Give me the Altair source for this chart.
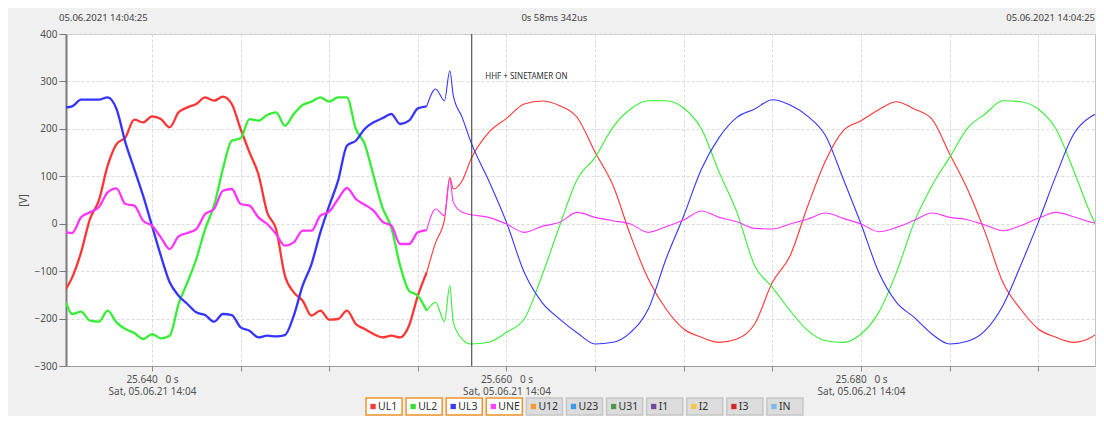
import altair as alt
import pandas as pd

# ---------------- data ----------------
TIME_MS = [
    25635.15, 25635.5, 25636.0, 25636.5, 25637.0, 25637.5, 25638.0, 25638.5,
    25639.0, 25639.5, 25640.0, 25640.5, 25641.0, 25641.5, 25642.0, 25642.5,
    25643.0, 25643.5, 25644.0, 25644.5, 25645.0, 25645.5, 25646.0, 25646.5,
    25647.0, 25647.5, 25648.0, 25648.5, 25649.0, 25649.5, 25650.0,
    25650.5, 25651.0, 25651.5, 25652.0, 25652.5, 25653.0, 25653.5, 25654.0,
    25654.5, 25655.0, 25655.5, 25656.0, 25656.5, 25656.8, 25657.0, 25657.5,
    25658, 25659, 25660, 25661, 25662, 25663, 25664, 25665, 25666, 25667,
    25668, 25669, 25670, 25671, 25672, 25673, 25674, 25675, 25676, 25677,
    25678, 25679, 25680, 25681, 25682, 25683, 25684, 25685, 25686, 25687,
    25688, 25689, 25690, 25691, 25692, 25693, 25693.48,
]

UL1 = [
    -137.7, -113.1, -60.4, 9.9, 48.6, 122.4, 168, 182.1, 219.3, 213.7, 226.4, 220.7,
    203.2, 234.8, 245.3, 252.4,
    266.4, 259.4, 267.8, 252.4, 199.7, 150.5, 104.8, 24, -11.2, -109.6, -144.7,
    -162.3, -193.9, -183.4, -202.3,
    -200.9, -183.4, -211.5, -222, -232.6, -239.6, -236.1, -239.6, -215, -151.7,
    -102.5, -40, 8.5, 97.8, 73.2, 90.7,
    136.4, 192.6, 222, 252.4, 258.7, 248.9, 223.5, 150.5, 81.6, -25.2, -116.6,
    -179.9, -222, -239.6, -250.1, -243.1, -211.5, -123.6, -67.4, 38, 132.9, 196.1,
    217.2, 240.4, 257.3, 241.8, 220.7, 147, 73.2, -18.2, -123.6, -179.9, -222,
    -239.6, -250.1, -239.6, -225.5,
]

UL2 = [
    -165.8, -190.4, -185.5, -204.5, -206.6, -183.4, -208, -222, -230.5, -243.1,
    -232.6, -241.7, -236.1, -169.3, -123.6, -74.4,
    -11.2, 38, 115.3, 175, 180, 220.7, 217.2, 229.2, 234.8, 206.7, 231.3, 250.3,
    257.3, 266.4, 257.3,
    266.4, 266.4, 199.7, 168, 101.3, 34.5, -7.7, -88.5, -141.2, -151.7, -183.4,
    -165.8, -206.6, -130.6, -208, -243.1,
    -253.6, -250, -229, -201, -109.6, -4.2, 94.2, 139.9, 203.2, 241.8, 259.4,
    259.4, 244, 199.7, 108.3, 24, -88.5, -134.2, -183.4, -225.5, -246.6, -250.1,
    -232.6, -186.9, -102.5, 2.9, 80.2, 139.9, 201.1, 231.3, 259.4, 257.3, 241.8,
    199.7, 111.8, 16.9, -18.2,
]

UL3 = [
    245.3, 247.5, 261.5, 261.5, 261.5, 266.4, 241.8, 171.5, 115.3, 59.1, -4.2,
    -67.4, -123.6, -151.7, -169.3, -186.9,
    -192.5, -206.6, -190.4, -192.5, -218.5, -225.5, -239.6, -236.1, -237.5,
    -234.7, -193.9, -130.6, -85, -18.2, 38,
    90.7, 164.5, 175, 199.7, 213.7, 222.2, 231.3, 210.2, 217.2, 243.2, 247.5,
    284, 259.4, 322.6, 270, 224.3,
    171.5, 90.7, 2.9, -102.5, -165.8, -201, -230.5, -253.6, -250.1, -229, -179.9,
    -74.4, 16.9, 115.3, 182.1, 224.3, 241.8, 261.5, 250.3, 226.4, 185.6, 94.2,
    -0.6, -102.5, -165.8, -197.4, -232.6, -253.6, -248, -225.5, -172.8, -88.5,
    2.9, 101.3, 189.1, 226.4, 234.8,
]

UNE = [
    -18.2, -19.6, 13.4, 24, 34.5, 66.1, 74.6, 41.5, 38, 6.4, -4.2, -28.8, -53.4,
    -26.6, -19.6, -11.2,
    20.4, 31, 69.6, 73.2, 41.5, 38, 13.4, -0.6, -21.7, -46.3, -39.3, -14.7,
    -14.7, 16.9, 25.4,
    52.1, 75.3, 52.1, 40.1, 27.5, 4.3, -4.2, -42.8, -42.8, -18.2, -13.3, 31,
    16.9, 94.2, 45, 24,
    19, 13.4, -0.6, -18.2, -5.6, 2.9, 24, 13.4, 6.4, -0.6, -18.2, -6.3, 7.8,
    26.8, 13.4, 4.3, -9.8, -11.2, -0.6, 9.9, 22.6, 11.3, -0.6, -16.8, -7.7, 7.1,
    22.6, 13.4, 8.5, -2.7, -14.7, -4.2, 11.3, 24, 14.8, 2.9, -0.6,
]

SERIES = ["UL1", "UL2", "UL3", "UNE"]
LINE_COLORS = ["#ff3535", "#35ee35", "#3535ff", "#ff35ff"]

X_DOMAIN = [25635.15, 25693.2]
GRID_MS = [25640, 25645, 25650, 25655, 25660, 25665, 25670, 25675, 25680, 25685, 25690]
Y_TICKS = [-300, -200, -100, 0, 100, 200, 300, 400]
RIPPLE_END = 25655.5
CURSOR_MS = [25658.04]
NOTE_T = [25658.8]
NOTE_V = [309]
NOTE_TEXT = ["HHF + SINETAMER ON"]
TOP_LEFT = "05.06.2021 14:04:25"
TOP_CENTER = "0s 58ms 342us"
TOP_CENTER_T = 25662.7
TOP_RIGHT = "05.06.2021 14:04:25"

LEG_NAMES = ["UL1", "UL2", "UL3", "UNE", "U12", "U23", "U31", "I1", "I2", "I3", "IN"]
LEG_COLORS = ["#f03a3a", "#3ade3a", "#3a3aee", "#ff44ff", "#f39a35", "#3a9aee",
              "#4a9a4a", "#6a4a9a", "#f5c842", "#d02828", "#7ab8ee"]
LEG_ACTIVE = ["on", "on", "on", "on", "off", "off", "off", "off", "off", "off", "off"]

FONT = "Noto Sans"

# ---------------- tables ----------------
rows = []
for name, vals in zip(SERIES, [UL1, UL2, UL3, UNE]):
    for t, v in zip(TIME_MS, vals):
        rows.append({"t": t, "v": v, "series": name})
df = pd.DataFrame(rows)

x_axis = alt.Axis(
    values=GRID_MS,
    labelExpr=("datum.value % 20 == 0 ? [format(datum.value / 1000, '.3f') + "
               "'\u00a0\u00a0\u00a00\u00a0s', 'Sat, 05.06.21 14:04'] : ''"),
    title=None, grid=True, gridColor="#dadada", gridDash=[3, 2],
    tickSize=5, tickColor="#8a8a8a", domainColor="#9a9a9a",
    labelFont=FONT, labelFontSize=10, labelColor="#505050",
    labelPadding=3, labelLineHeight=12, labelFlush=False, labelOverlap=False,
)
y_axis = alt.Axis(
    values=Y_TICKS, title="[V]", grid=True, gridColor="#dadada", gridDash=[3, 2],
    tickSize=7, tickColor="#777777", domainColor="#7a7a7a", domainWidth=2,
    labelFont=FONT, labelFontSize=10, labelColor="#505050", labelPadding=2,
    labelOverlap=False, titleFont=FONT, titleFontSize=10, titleFontWeight="normal",
    titleColor="#505050", titlePadding=6,
)

xs = alt.X("t:Q", scale=alt.Scale(domain=X_DOMAIN, nice=False, zero=False), axis=x_axis)
ys = alt.Y("v:Q", scale=alt.Scale(domain=[-300, 400], nice=False, zero=False), axis=y_axis)
cs = alt.Color("series:N", scale=alt.Scale(domain=SERIES, range=LINE_COLORS), legend=None)

base = alt.Chart(df).encode(x=xs, y=ys, color=cs, detail="series:N")
thick = base.transform_filter(alt.datum.t <= RIPPLE_END).mark_line(
    strokeWidth=2.3, interpolate="monotone", clip=True)
thin = base.transform_filter(alt.datum.t >= RIPPLE_END).mark_line(
    strokeWidth=1.1, interpolate="monotone", clip=True)

cursor = alt.Chart(pd.DataFrame({"t": CURSOR_MS})).mark_rule(
    color="#303030", strokeWidth=1).encode(x="t:Q")

note = alt.Chart(pd.DataFrame({"t": NOTE_T, "v": NOTE_V, "label": NOTE_TEXT})).mark_text(
    align="left", baseline="middle", font=FONT, fontSize=8, color="#303030"
).encode(x="t:Q", y="v:Q", text="label:N")

top_l = alt.Chart(pd.DataFrame({"t": [X_DOMAIN[0]], "label": [TOP_LEFT]})).mark_text(
    align="left", baseline="middle", dx=-7, font=FONT, fontSize=9.5, color="#404040"
).encode(x="t:Q", y=alt.value(-16), text="label:N")
top_c = alt.Chart(pd.DataFrame({"t": [TOP_CENTER_T], "label": [TOP_CENTER]})).mark_text(
    align="center", baseline="middle", font=FONT, fontSize=9.5, color="#404040"
).encode(x="t:Q", y=alt.value(-16), text="label:N")
top_r = alt.Chart(pd.DataFrame({"t": [X_DOMAIN[1]], "label": [TOP_RIGHT]})).mark_text(
    align="right", baseline="middle", font=FONT, fontSize=9.5, color="#404040"
).encode(x="t:Q", y=alt.value(-16), text="label:N")

main = alt.layer(thick, thin, cursor, note, top_l, top_c, top_r).properties(
    width=1029, height=332,
    view=alt.ViewBackground(fill="white", stroke="#c4c4c4"),
)

# ---------------- legend strip ----------------
leg_df = pd.DataFrame({"name": LEG_NAMES, "active": LEG_ACTIVE})
lx = alt.X("name:N", sort=LEG_NAMES, axis=None,
           scale=alt.Scale(range=[300, 737], paddingInner=0.1, paddingOuter=0))
boxes = alt.Chart(leg_df).mark_rect(strokeWidth=1.5).encode(
    x=lx,
    fill=alt.Fill("active:N", scale=alt.Scale(domain=["on", "off"], range=["#ffffff", "#dcdcdc"]), legend=None),
    stroke=alt.Stroke("active:N", scale=alt.Scale(domain=["on", "off"], range=["#f0922c", "#c6c6c6"]), legend=None),
)
squares = alt.Chart(leg_df).mark_square(size=28, xOffset=-11, opacity=1).encode(
    x=lx,
    color=alt.Color("name:N", scale=alt.Scale(domain=LEG_NAMES, range=LEG_COLORS), legend=None),
)
labels = alt.Chart(leg_df).mark_text(
    align="left", baseline="middle", dx=-6, font=FONT, fontSize=10.5, color="#303030"
).encode(x=lx, text="name:N")
legend = alt.layer(boxes, squares, labels).properties(
    width=1029, height=17, view=alt.ViewBackground(stroke=None, fill=None),
)

chart = alt.vconcat(main, legend, spacing=0).resolve_scale(
    x="independent", color="independent"
).properties(
    padding={"left": 9, "top": 4, "right": 0, "bottom": 0},
    background="#f0f0f0",
).configure(font=FONT)

chart.save("out.html", embed_options={"renderer": "svg", "actions": False})
